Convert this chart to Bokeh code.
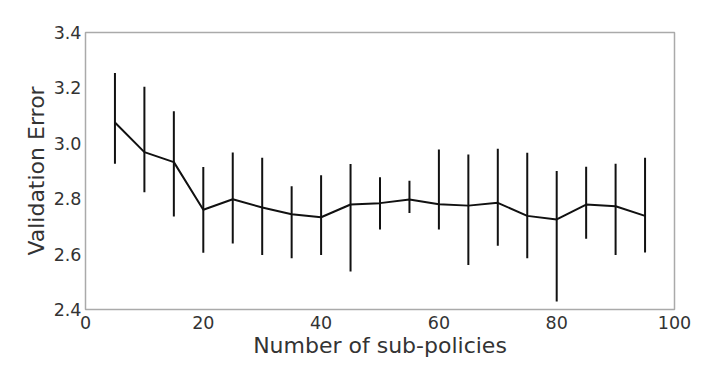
from bokeh.plotting import figure
from bokeh.models import FixedTicker, NumeralTickFormatter, ColumnDataSource
from bokeh.embed import file_html
from bokeh.resources import INLINE

n_sub = [5, 10, 15, 20, 25, 30, 35, 40, 45, 50, 55, 60, 65, 70, 75, 80, 85, 90, 95]
err_mean = [3.075, 2.968, 2.932, 2.760, 2.798, 2.768, 2.744, 2.733, 2.779, 2.784,
            2.797, 2.780, 2.775, 2.785, 2.738, 2.725, 2.779, 2.773, 2.738]
err_upper = [3.254, 3.204, 3.116, 2.914, 2.967, 2.948, 2.845, 2.885, 2.925, 2.877,
             2.865, 2.978, 2.960, 2.980, 2.966, 2.900, 2.915, 2.926, 2.948]
err_lower = [2.926, 2.823, 2.736, 2.605, 2.638, 2.597, 2.585, 2.597, 2.537, 2.689,
             2.748, 2.689, 2.561, 2.630, 2.585, 2.429, 2.655, 2.597, 2.606]
x_ticks = [0, 20, 40, 60, 80, 100]
y_ticks = [2.4, 2.6, 2.8, 3.0, 3.2, 3.4]

src = ColumnDataSource(dict(x=n_sub, y=err_mean, lo=err_lower, hi=err_upper))

p = figure(width=712, height=360, output_backend="svg", toolbar_location=None,
           x_range=(0, 100), y_range=(2.4, 3.4),
           min_border_left=85, min_border_right=38, min_border_top=32, min_border_bottom=51)

p.segment(x0="x", y0="lo", x1="x", y1="hi", source=src, line_color="#111111", line_width=2)
p.line(x="x", y="y", source=src, line_color="#111111", line_width=2)

p.xaxis.ticker = FixedTicker(ticks=x_ticks)
p.yaxis.ticker = FixedTicker(ticks=y_ticks)
p.yaxis.formatter = NumeralTickFormatter(format="0.0")

for ax in (p.xaxis[0], p.yaxis[0]):
    ax.axis_line_color = None
    ax.major_tick_line_color = None
    ax.minor_tick_line_color = None
    ax.major_tick_out = 0
    ax.major_tick_in = 0
    ax.minor_tick_out = 0
    ax.major_label_text_font = "DejaVu Sans"
    ax.major_label_text_font_size = "17.5px"
    ax.major_label_text_color = "#333333"
    ax.axis_label_text_font = "DejaVu Sans"
    ax.axis_label_text_font_size = "22px"
    ax.axis_label_text_font_style = "normal"
    ax.axis_label_text_color = "#333333"

p.xaxis.major_label_standoff = 6
p.yaxis.major_label_standoff = 4
p.xaxis.axis_label = "Number of sub-policies"
p.yaxis.axis_label = "Validation Error"
p.xaxis.axis_label_standoff = 1
p.yaxis.axis_label_standoff = 2

p.xgrid.grid_line_color = None
p.ygrid.grid_line_color = None
p.outline_line_color = "#aaaaaa"
p.outline_line_width = 1.5

open("out.html", "w").write(file_html(p, INLINE))
